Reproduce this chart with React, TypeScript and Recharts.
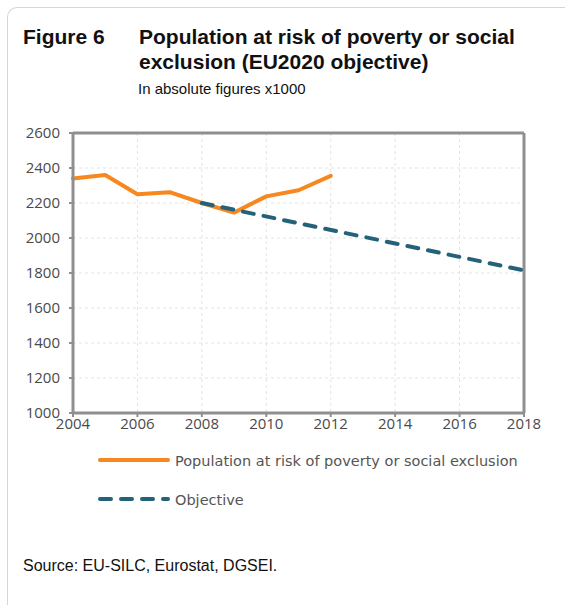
import React from "react";
import { LineChart, Line, XAxis, YAxis, CartesianGrid, ReferenceLine } from "recharts";

const years = [2004, 2005, 2006, 2007, 2008, 2009, 2010, 2011, 2012, 2013, 2014, 2015, 2016, 2017, 2018];
const population: (number | null)[] = [2340, 2360, 2250, 2262, 2200, 2145, 2238, 2273, 2355, null, null, null, null, null, null];
const objective: (number | null)[] = [null, null, null, null, 2200, null, null, null, null, null, null, null, null, null, 1815];
const xTicks = [2004, 2006, 2008, 2010, 2012, 2014, 2016, 2018];
const yTicks = [1000, 1200, 1400, 1600, 1800, 2000, 2200, 2400, 2600];
const seriesNames = ["Population at risk of poverty or social exclusion", "Objective"];
const seriesColors = ["#F7871F", "#24627A"];

const data = years.map((y, i) => ({ year: y, population: population[i], objective: objective[i] }));

const AXIS = "#8f8f8f";
const TICK_FONT = { fontFamily: "'Open Sans', sans-serif", fontSize: 15, fill: "#4a4a4a" };

export default function App() {
  return (
    <div style={{ position: "absolute", left: 0, top: 0, width: 565, height: 607, background: "#fff", overflow: "hidden" }}>
      <div
        style={{
          position: "absolute",
          left: 7,
          top: 7,
          width: 570,
          height: 597,
          borderTop: "1px solid #d6d6d6",
          borderLeft: "1px solid #d6d6d6",
          borderTopLeftRadius: 10,
        }}
      />
      <div style={{ position: "absolute", left: 23, top: 24, fontFamily: "'Liberation Sans', Arial, sans-serif", fontWeight: "bold", fontSize: 21, lineHeight: "25px", color: "#111" }}>
        Figure 6
      </div>
      <div style={{ position: "absolute", left: 139, top: 24, width: 420, fontFamily: "'Liberation Sans', Arial, sans-serif", fontWeight: "bold", fontSize: 21, lineHeight: "25px", color: "#111" }}>
        Population at risk of poverty or social
        <br />
        exclusion (EU2020 objective)
      </div>
      <div style={{ position: "absolute", left: 138, top: 80, fontFamily: "'Liberation Sans', Arial, sans-serif", fontSize: 15, lineHeight: "18px", color: "#111" }}>
        In absolute figures x1000
      </div>

      <div style={{ position: "absolute", left: 0, top: 0 }}>
        <LineChart width={565} height={450} data={data} margin={{ top: 133, right: 41, bottom: 7, left: 13 }}>
          <CartesianGrid stroke="#e3e3e3" strokeDasharray="3 3" verticalValues={xTicks} horizontalValues={yTicks} />
          <XAxis
            dataKey="year"
            type="number"
            domain={[2004, 2018]}
            ticks={xTicks}
            interval={0}
            height={30}
            axisLine={{ stroke: AXIS, strokeWidth: 3 }}
            tickLine={{ stroke: AXIS, strokeWidth: 2 }}
            tickSize={4}
            tickMargin={1}
            tick={TICK_FONT}
          />
          <YAxis
            type="number"
            domain={[1000, 2600]}
            ticks={yTicks}
            interval={0}
            width={60}
            axisLine={{ stroke: AXIS, strokeWidth: 3 }}
            tickLine={{ stroke: AXIS, strokeWidth: 2 }}
            tickSize={4}
            tickMargin={9}
            tick={TICK_FONT}
          />
          <ReferenceLine y={2600} stroke={AXIS} strokeWidth={3} />
          <ReferenceLine x={2018} stroke={AXIS} strokeWidth={3} />
          <Line
            type="linear"
            dataKey="population"
            name={seriesNames[0]}
            stroke={seriesColors[0]}
            strokeWidth={4}
            strokeLinecap="round"
            strokeLinejoin="round"
            dot={false}
            activeDot={false}
            isAnimationActive={false}
          />
          <Line
            type="linear"
            dataKey="objective"
            name={seriesNames[1]}
            stroke={seriesColors[1]}
            strokeWidth={4}
            strokeDasharray="11 10"
            strokeLinecap="round"
            dot={false}
            activeDot={false}
            connectNulls
            isAnimationActive={false}
          />
        </LineChart>
      </div>

      <svg style={{ position: "absolute", left: 0, top: 440 }} width={565} height={80}>
        <line x1={100} x2={168} y1={20} y2={20} stroke={seriesColors[0]} strokeWidth={4} strokeLinecap="round" />
        <text x={175} y={26} fontFamily="'DejaVu Sans', Verdana, sans-serif" fontSize={14.5} fill="#555555">
          {seriesNames[0]}
        </text>
        <line x1={100} x2={168} y1={59} y2={59} stroke={seriesColors[1]} strokeWidth={4} strokeDasharray="11 10" strokeLinecap="round" />
        <text x={175} y={65} fontFamily="'DejaVu Sans', Verdana, sans-serif" fontSize={14.5} fill="#555555">
          {seriesNames[1]}
        </text>
      </svg>

      <div style={{ position: "absolute", left: 23, top: 557, fontFamily: "'Liberation Sans', Arial, sans-serif", fontSize: 16, lineHeight: "18px", color: "#111" }}>
        Source: EU-SILC, Eurostat, DGSEI.
      </div>
    </div>
  );
}
